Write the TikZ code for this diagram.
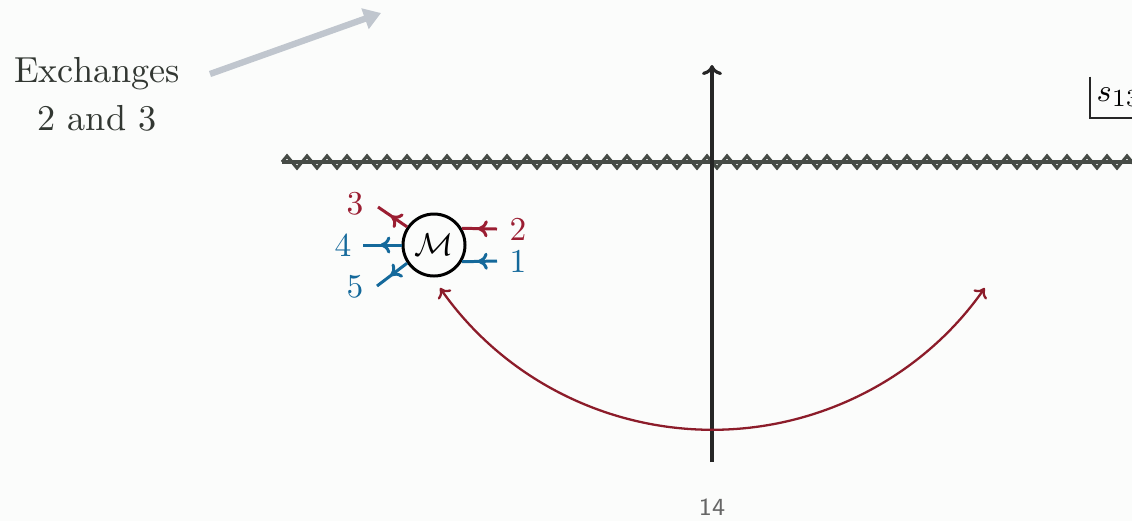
\documentclass[tikz,border=0pt]{standalone}
\usepackage{amsmath}
\usepackage{tikz}
\usetikzlibrary{arrows.meta, decorations.pathmorphing, decorations.markings}

\definecolor{legred}{RGB}{155,30,50}
\definecolor{legblue}{RGB}{20,105,155}
\definecolor{arcred}{RGB}{140,28,42}
\definecolor{hintgray}{RGB}{192,198,206}
\definecolor{inkgray}{RGB}{50,55,50}
\definecolor{cutgray}{RGB}{70,75,70}
\definecolor{paper}{RGB}{251,252,251}

\begin{document}
\begin{tikzpicture}[
  leg/.style={line width=0.85pt, postaction={decorate},
              decoration={markings, mark=at position 0.55 with {\arrow{To[length=1mm,width=1.7mm]}}}},
  blob/.style={circle, draw, line width=0.85pt, minimum size=0.62cm, inner sep=0pt,
               fill=paper, font=\fontsize{9.5}{11}\selectfont},
  lbl/.style={inner sep=0pt, font=\fontsize{9.5}{11}\selectfont},
  cut/.style={cutgray, line width=0.9pt},
  swing/.style={arcred, line width=0.65pt, {To[length=0.9mm,width=1.6mm]}-{To[length=0.9mm,width=1.6mm]}}
]
%% Page and clip
\fill[paper] (0,0) rectangle (11.32,5.21);
\clip (0,0) rectangle (11.32,5.21);

%% Hint text and arrow
\node[inkgray, align=center, font=\fontsize{10.3}{13.6}\selectfont] at (0.97,4.27) (exch) {Exchanges\\2 and 3};
\coordinate (hintA) at (2.10,4.47);
\coordinate (hintB) at (3.81,5.08);
\draw[hintgray, line width=1.8pt, -{Triangle[length=1.7mm,width=2.1mm]}] (hintA) -- (hintB);

%% Branch cut
\coordinate (cutL) at (2.82,3.59);
\coordinate (cutR) at (11.50,3.59);
\draw[cut] (cutL) -- (cutR);
\draw[cut, decorate, decoration={zigzag, segment length=0.2cm, amplitude=0.06cm}] (cutL) -- (cutR);

%% Vertical axis
\coordinate (axB) at (7.12,0.59);
\coordinate (axT) at (7.12,4.56);
\draw[line width=0.9pt, black!85, -{To[length=1mm,width=2mm]}] (axB) -- (axT);

%% Corner label
\node[anchor=south west, inner xsep=0.06cm, inner ysep=0pt, minimum height=0.40cm,
      font=\fontsize{9.5}{11}\selectfont] at (10.90,4.03) (s13) {$s_{13}$};
\draw[line width=0.75pt, black!85] (s13.north west) |- (s13.south east);

%% Amplitude blob
\node[blob] at (4.34,2.76) (M) {$\mathcal{M}$};
\coordinate (e1) at (4.97,2.60);
\coordinate (e2) at (4.97,2.92);
\coordinate (e3) at (3.78,3.14);
\coordinate (e4) at (3.63,2.76);
\coordinate (e5) at (3.77,2.35);
\draw[leg, legblue] (e1) -- (M.329);
\draw[leg, legred] (e2) -- (M.31);
\draw[leg, legred] (M.146) -- (e3);
\draw[leg, legblue] (M.west) -- (e4);
\draw[leg, legblue] (M.214) -- (e5);
\node[lbl, legblue] at (5.18,2.60) (lab1) {1};
\node[lbl, legred] at (5.18,2.92) (lab2) {2};
\node[lbl, legred] at (3.55,3.17) (lab3) {3};
\node[lbl, legblue] at (3.43,2.76) (lab4) {4};
\node[lbl, legblue] at (3.55,2.34) (lab5) {5};

%% Exchange arc
\coordinate (arcL) at (4.40,2.33);
\draw[swing] (arcL) arc[start angle=215, end angle=325, radius=3.325cm];

%% Page number
\node[black!60, font=\sffamily\fontsize{7}{8}\selectfont] at (7.12,0.14) (pgno) {14};
\end{tikzpicture}
\end{document}
